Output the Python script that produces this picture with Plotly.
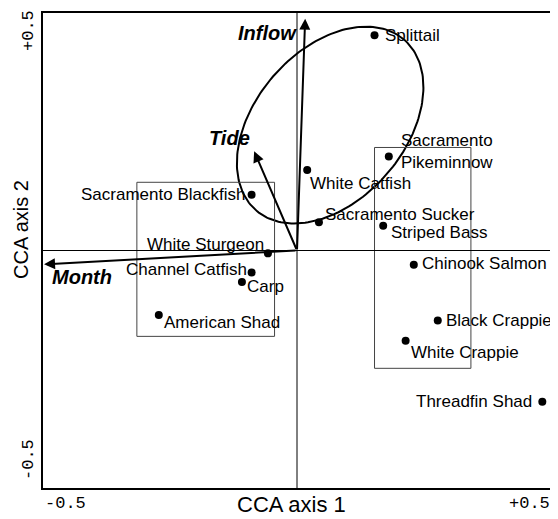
import numpy as np
import plotly.graph_objects as go

# species scores (CCA axis 1, CCA axis 2)
species = ['Splittail', 'White Catfish', 'Sacramento<br>Pikeminnow', 'Sacramento Sucker',
           'Striped Bass', 'Sacramento Blackfish', 'White Sturgeon', 'Channel Catfish',
           'Carp', 'American Shad', 'Chinook Salmon', 'Black Crappie', 'White Crappie',
           'Threadfin Shad']
axis1 = [0.152, 0.020, 0.180, 0.043, 0.169, -0.089, -0.057, -0.089, -0.108, -0.271,
         0.229, 0.276, 0.213, 0.481]
axis2 = [0.451, 0.169, 0.197, 0.059, 0.052, 0.117, -0.006, -0.046, -0.066, -0.135,
         -0.030, -0.147, -0.189, -0.317]

# environmental vectors
env_names = ['Inflow', 'Tide', 'Month']
env_x = [0.016, -0.084, -0.496]
env_y = [0.486, 0.208, -0.029]

# group boxes (x0, x1, y0, y1)
box_left = [-0.314, -0.044, -0.180, 0.143]
box_right = [0.152, 0.341, -0.247, 0.216]

# ellipse (centre, semi-axes in px, tilt)
ell_cx, ell_cy = 0.065, 0.263
ell_a, ell_b, ell_deg = 113, 75, 49

xticks = ['-0.5', '+0.5']
yticks = ['+0.5', '-0.5']
x_title = 'CCA axis 1'
y_title = 'CCA axis 2'

x_range = [-0.5, 0.5]
y_range = [-0.5, 0.5]
px_per_x = 510
px_per_y = 477

# label placement: anchor, x offset px, y offset px (down positive)
label_place = [('left', 8, 0), ('left', 1, 14), ('left', 10, -5), ('left', 4, -8),
               ('left', 6, 7), ('right', -5, 0), ('right', -2, -9), ('right', -3, -3),
               ('left', 3, 5), ('left', 3, 8), ('left', 6, -1), ('left', 6, 0),
               ('left', 3, 12), ('right', -8, 0)]
env_place = [('right', -6, 14), ('right', -2, -13), ('left', 6, 13)]

fig = go.Figure()

t = np.linspace(0, 2 * np.pi, 200)
th = np.radians(ell_deg)
ex = ell_cx + (ell_a * np.cos(t) * np.cos(th) - ell_b * np.sin(t) * np.sin(th)) / px_per_x
ey = ell_cy + (ell_a * np.cos(t) * np.sin(th) + ell_b * np.sin(t) * np.cos(th)) / px_per_y
fig.add_trace(go.Scatter(x=ex, y=ey, mode='lines', line=dict(color='black', width=2),
                         hoverinfo='skip'))

fig.add_trace(go.Scatter(x=axis1, y=axis2, mode='markers',
                         marker=dict(color='black', size=8)))

lab_font = dict(family='Liberation Sans, Arial', size=17, color='black')
for name, sx, sy, (anc, dx, dy) in zip(species, axis1, axis2, label_place):
    fig.add_annotation(x=sx, y=sy, text=name, showarrow=False, xanchor=anc,
                       xshift=dx, yshift=-dy, align='left', font=lab_font)

for b in [box_left, box_right]:
    fig.add_shape(type='rect', x0=b[0], x1=b[1], y0=b[2], y1=b[3],
                  line=dict(color='#444', width=1))

fig.add_hline(y=0, line=dict(color='black', width=1))
fig.add_vline(x=0, line=dict(color='black', width=1))

# frame round the plot area
fig.add_shape(type='rect', xref='paper', yref='paper', x0=0, x1=1, y0=0, y1=1,
              line=dict(color='black', width=2), layer='above')

env_font = dict(family='Liberation Sans, Arial', size=20, color='black')
for name, vx, vy, (anc, dx, dy) in zip(env_names, env_x, env_y, env_place):
    fig.add_annotation(x=vx, y=vy, ax=0, ay=0, xref='x', yref='y', axref='x', ayref='y',
                       showarrow=True, arrowhead=2, arrowsize=1.1, arrowwidth=2,
                       arrowcolor='black', text='')
    fig.add_annotation(x=vx, y=vy, text='<b><i>' + name + '</i></b>', showarrow=False,
                       xanchor=anc, xshift=dx, yshift=-dy, font=env_font)

# corner tick labels
tick_font = dict(family='Liberation Mono, Courier New', size=17, color='black')
fig.add_annotation(x=x_range[0], y=0, xref='x', yref='paper', yanchor='top', xanchor='left',
                   xshift=1, yshift=-3, text=xticks[0], showarrow=False, font=tick_font)
fig.add_annotation(x=x_range[1], y=0, xref='x', yref='paper', yanchor='top', xanchor='right',
                   yshift=-3, text=xticks[1], showarrow=False, font=tick_font)
fig.add_annotation(x=0, y=y_range[1], xref='paper', yref='y', xanchor='right', yanchor='top',
                   xshift=-2, yshift=4, text=yticks[0], textangle=-90, showarrow=False,
                   font=tick_font)
fig.add_annotation(x=0, y=y_range[0], xref='paper', yref='y', xanchor='right', yanchor='bottom',
                   xshift=-2, yshift=7, text=yticks[1], textangle=-90, showarrow=False,
                   font=tick_font)

# axis titles
fig.add_annotation(x=0.5, y=0, xref='paper', yref='paper', yanchor='middle', xanchor='center',
                   xshift=-6, yshift=-15, text=x_title, showarrow=False,
                   font=dict(family='Liberation Sans, Arial', size=22, color='black'))
fig.add_annotation(x=0, y=0.543, xref='paper', yref='paper', yanchor='middle', xanchor='right',
                   xshift=-8, text=y_title, textangle=-90, showarrow=False,
                   font=dict(family='Liberation Sans, Arial', size=20, color='black'))

# page body has an 8px margin, so the figure is 8px smaller than the window
fig.update_layout(
    width=550, height=511,
    margin=dict(l=34, r=6, t=4, b=30),
    plot_bgcolor='white', paper_bgcolor='white',
    showlegend=False,
    xaxis=dict(range=x_range, showgrid=False, zeroline=False, showticklabels=False,
               ticks='', showline=False),
    yaxis=dict(range=y_range, showgrid=False, zeroline=False, showticklabels=False,
               ticks='', showline=False),
)

fig.write_html("out.html")
